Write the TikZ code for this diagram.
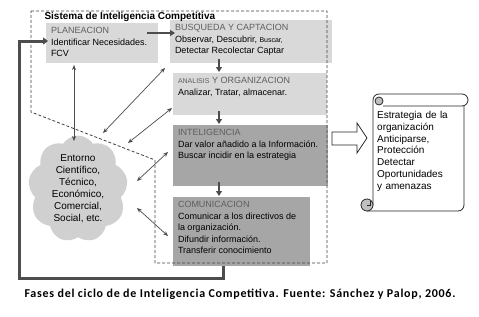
\documentclass[tikz,border=0pt]{standalone}
\usepackage{fontspec}
\setmainfont{Liberation Sans}
\newfontfamily\capfont[LetterSpace=6]{Carlito}
\usetikzlibrary{arrows.meta,shapes.symbols,calc}

\definecolor{boxlight}{HTML}{D9D9D9}
\definecolor{boxdark}{HTML}{A6A6A6}
\definecolor{headgray}{HTML}{5F5F5F}
\definecolor{linegray}{HTML}{4D4D4D}
\definecolor{cloudgray}{HTML}{D0D0D0}
\definecolor{curlgray}{HTML}{BFBFBF}

\newcommand{\panel}[3]{\parbox[c][#2][t]{#1}{#3}}
\newcommand{\head}[1]{\textcolor{headgray}{#1}}

\begin{document}
\begin{tikzpicture}[
  x=1pt, y=-1pt, >=Stealth,
  phase/.style={
    fill=#1, draw=none, inner xsep=5pt, inner ysep=4.5pt, outer sep=0pt,
    anchor=north west, font=\fontsize{9}{11.5}\selectfont
  },
  flow/.style={-{Triangle[length=5pt,width=6pt]}, line width=2pt, draw=linegray},
  backline/.style={-{Triangle[length=5pt,width=7pt]}, line width=3pt, draw=linegray},
  both/.style={{Stealth[length=5pt,width=4pt]}-{Stealth[length=5pt,width=4pt]},
    line width=0.7pt, draw=black!70},
  sysline/.style={dash pattern=on 3pt off 2pt, line width=0.8pt, draw=black!75},
  scrollline/.style={line width=0.8pt, draw=black!85}
]
\useasboundingbox (0,0) rectangle (479,316);
\def\cx{173} \def\ax{219}

% fases
\node[phase=boxlight] (plan) at (46,23) {\panel{102pt}{31pt}{%
  \head{PLANEACION}\\
  Identificar Necesidades.\\
  FCV}};

\node[phase=boxlight] (busq) at (170,20) {\panel{152pt}{34pt}{%
  \head{BUSQUEDA Y CAPTACION}\\
  Observar, Descubrir, {\fontsize{7}{11.5}\selectfont Buscar,}\\
  Detectar Recolectar Captar}};

\node[phase=boxlight] (anal) at (\cx,73) {\panel{144pt}{33pt}{%
  \head{{\fontsize{7}{11.5}\selectfont ANALISIS} Y ORGANIZACION}\\
  Analizar, Tratar, almacenar.}};

\node[phase=boxdark] (inte) at (\cx,125) {\panel{145pt}{52pt}{%
  \head{INTELIGENCIA}\\
  Dar valor añadido a la Información.\\
  Buscar incidir en la estrategia}};

\node[phase=boxdark] (comu) at (\cx,197) {\panel{127pt}{60pt}{%
  \head{COMUNICACION}\\
  Comunicar a los directivos de\\
  la organización.\\
  Difundir información.\\
  Transferir conocimiento}};

% entorno
\node[cloud, cloud puffs=9, cloud puff arc=115, aspect=0.9, fill=cloudgray,
  minimum width=88pt, minimum height=100pt, inner sep=0pt, align=center,
  font=\fontsize{10}{12}\selectfont] (env) at (78,189)
  {Entorno\\Científico,\\Técnico,\\Económico,\\Comercial,\\Social, etc.};

% sistema
\draw[sysline] (31,11) -- (327,11) -- (327,263) -- (155,263) -- (155,160) -- (31,112) -- cycle;
\node[anchor=base west, font=\bfseries\fontsize{10}{12}\selectfont] (title) at (41,19)
  {Sistema de Inteligencia Competitiva};

% ciclo
\draw[flow] ([shift={(-11pt,10pt)}]plan.east) -- ([shift={(5pt,8.5pt)}]busq.west);
\foreach \a/\b in {busq/anal, anal/inte, inte/comu}
  \draw[flow, shorten >=1pt] (\ax,0 |- \a.south) ++(0,-4) -- (\ax,0 |- \b.north);
\draw[backline] ([xshift=-18.5pt]comu.south) -- ++(0,12)
  -| ([xshift=-27pt,yshift=2pt]plan.west) -- ([xshift=2pt,yshift=2pt]plan.west);

% entorno <-> fases
\draw[both] ([shift={(-28pt,-2pt)}]plan.south) -- ($(env.center)+(-4,-48)$);
\draw[both] ([shift={(-5pt,-5pt)}]busq.south west) -- ($(env.center)+(25,-56)$);
\draw[both] ([shift={(-1pt,7pt)}]anal.south west) -- ($(env.center)+(50,-46)$);
\draw[both] ([shift={(-5pt,3.5pt)}]inte.west) -- ($(env.center)+(59,-8)$);
\draw[both] ([shift={(-5pt,-4.5pt)}]comu.west) -- ($(env.center)+(59,19)$);

% estrategia
\draw[line width=0.8pt, draw=black!85, fill=white] ([shift={(4pt,23.5pt)}]inte.east)
  -- ++(25,0) -- ++(0,-9) -- ++(10,15) -- ++(-10,15) -- ++(0,-8) -- ++(-25,0) -- cycle;
\draw[scrollline, rounded corners=6pt] (373,205) -- (373,94) -- (468,94) -- (468,106) -- (383,106);
\draw[scrollline, rounded corners=6pt] (367,211) -- (464,211) -- (464,106);
\draw[scrollline, fill=curlgray] (379,101) circle[radius=4pt];
\draw[scrollline, fill=curlgray] (367,205) circle[radius=6pt];
\draw[scrollline] (367,205) -- (370,205) -- (370,201);
\node[anchor=north west, text width=86pt, align=left, inner sep=0pt,
  font=\fontsize{10}{11.8}\selectfont] (strat) at (377,111)
  {Estrategia de la\\organización\\Anticiparse,\\Protección\\Detectar\\Oportunidades\\y amenazas};

\node[font=\capfont\bfseries\fontsize{12}{14}\selectfont] (caption) at (240,294)
  {Fases del ciclo de de Inteligencia Competitiva. Fuente: Sánchez y Palop, 2006.};
\end{tikzpicture}
\end{document}
